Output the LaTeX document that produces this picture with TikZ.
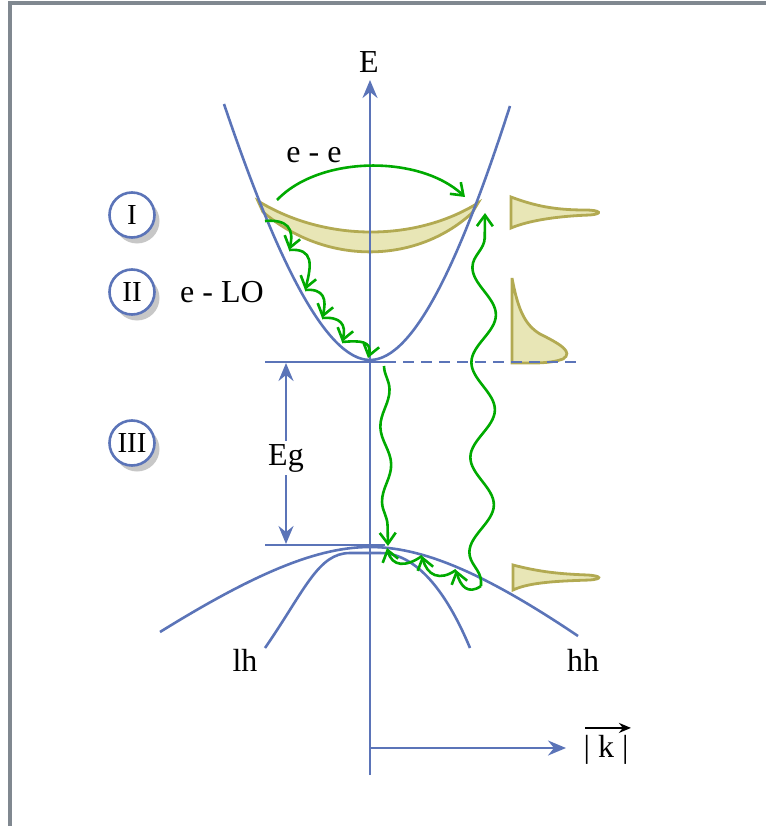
\documentclass[tikz,border=0pt]{standalone}
\usepackage{fontspec}
\setmainfont{Liberation Serif}
\usetikzlibrary{arrows.meta, decorations.pathmorphing, shadows}

\definecolor{bandblue}{RGB}{91,116,184}
\definecolor{hotgreen}{RGB}{0,170,0}
\definecolor{popfill}{RGB}{232,230,182}
\definecolor{popedge}{RGB}{178,170,82}
\definecolor{framegray}{RGB}{128,136,144}

\begin{document}
\begin{tikzpicture}[
      x=1pt, y=1pt,
      font=\fontsize{32}{36}\selectfont,
      band/.style={draw=bandblue, line width=2.6pt},
      axis/.style={band, -{Stealth[length=18pt, width=15pt, inset=6pt]}},
      relax/.style={draw=hotgreen, line width=2.6pt,
      -{Straight Barb[length=11pt, width=16pt]}},
      wave/.style={relax, decorate},
      pop/.style={draw=popedge, fill=popfill, line width=2.8pt},
      stage/.style={circle, draw=bandblue, fill=white, line width=2.6pt,
      minimum size=45pt, inner sep=0pt, font=\fontsize{29}{31}\selectfont,
      drop shadow={shadow xshift=5pt, shadow yshift=-6pt, fill=black!22, opacity=1}}
    ]
    \useasboundingbox (0,0) rectangle (765,-826);
    % frame
    \draw[framegray, line width=3.5pt] (10,-826) -- (10,-3) -- (768,-3);

    % electron populations
    \path[pop] (258,-201) .. controls (325,-242) and (415,-242) .. (478,-203)
      -- (472,-213) .. controls (415,-265) and (325,-265) .. (263,-212) -- cycle;
    \path[pop] (511,-197) .. controls (535,-206) and (555,-210) .. (585,-210)
      .. controls (601,-210) and (603,-214) .. (590,-215)
      .. controls (560,-216) and (530,-220) .. (511,-228) -- cycle;
    \path[pop] (512,-278) .. controls (518,-310) and (525,-325) .. (540,-334)
      .. controls (560,-344) and (574,-352) .. (563,-359)
      .. controls (550,-364) and (530,-363) .. (512,-363) -- cycle;
    \path[pop] (513,-565) .. controls (540,-572) and (560,-574) .. (588,-575)
      .. controls (602,-576) and (602,-579) .. (590,-580)
      .. controls (560,-581) and (530,-582) .. (513,-590) -- cycle;

    % axes
    \node (elab) at (369,-62) {E};
    \node (klab) at (606,-750) {| k |};
    \coordinate (ebot) at (370,-775);
    \coordinate (etop) at (370,-80);
    \coordinate (korig) at (370,-748);
    \coordinate (kend) at (566,-748);
    \draw[axis] (ebot) -- (etop);
    \draw[axis] (korig) -- (kend);
    \draw[line width=2.2pt, -{Stealth[length=12pt, width=10pt]}]
      ([xshift=5pt, yshift=4pt]klab.north west) -- ([xshift=-1pt, yshift=4pt]klab.north east);

    % bands
    \draw[band] (224,-104) .. controls (275,-255) and (325,-360) .. (370,-360)
      .. controls (415,-360) and (462,-255) .. (510,-106);
    \draw[band] (160,-632) .. controls (260,-570) and (320,-547) .. (370,-547)
      .. controls (420,-547) and (480,-570) .. (578,-636);
    \draw[band] (265,-648) .. controls (305,-590) and (318,-553) .. (350,-553)
      -- (380,-553) .. controls (420,-553) and (450,-600) .. (470,-648);
    \node (lh) at (245,-660) {lh};
    \node (hh) at (583,-660) {hh};

    % gap
    \coordinate (cbl) at (265,-362);
    \coordinate (cbr) at (385,-362);
    \coordinate (cbend) at (580,-362);
    \coordinate (vbl) at (265,-545);
    \coordinate (vbr) at (385,-545);
    \draw[band] (cbl) -- (cbr);
    \draw[band, dash pattern=on 11pt off 7pt] (cbr) -- (cbend);
    \draw[band] (vbl) -- (vbr);
    \node[fill=white, inner sep=3pt] (eg) at (286,-458) {Eg};
    \coordinate (egtop) at (286,-363);
    \coordinate (egbot) at (286,-544);
    \draw[axis] (eg) -- (egtop);
    \draw[axis] (eg) -- (egbot);

    % stages
    \node[stage] (s1) at (132,-215) {I};
    \node[stage] (s2) at (132,-292) {II};
    \node[stage] (s3) at (132,-443) {III};
    \node (lo) at (222,-292) {e - LO};

    % e-e scattering
    \coordinate (eea) at (277,-200);
    \coordinate (eeb) at (465,-197);
    \draw[relax] (eea) .. controls (320,-155) and (420,-155) .. (eeb);
    \node (ee) at (314,-155) {e - e};

    % LO phonon cascade
    \coordinate (c0) at (265,-221);
    \coordinate (c1) at (289,-250);
    \coordinate (c2) at (305,-290);
    \coordinate (c3) at (322,-318);
    \coordinate (c4) at (342,-342);
    \coordinate (c5) at (368,-358);
    \foreach \a/\b in {c0/c1, c1/c2, c2/c3, c3/c4, c4/c5}
      \draw[relax] (\a) to[out=5, in=75, looseness=1.5] (\b);

    % recombination and absorption
    \coordinate (w1) at (384,-366);
    \coordinate (w2) at (388,-546);
    \coordinate (q0) at (481,-586);
    \coordinate (cbhit) at (485,-213);
    \draw[wave, decoration={snake, amplitude=5pt, segment length=75pt,
      post length=12pt}] (w1) -- (w2);
    \draw[wave, decoration={snake, amplitude=12pt, segment length=95pt,
      pre length=4pt, post length=14pt}] (q0) -- (cbhit);

    % hole cascade
    \coordinate (q1) at (456,-570);
    \coordinate (q2) at (422,-556);
    \coordinate (q3) at (387,-548);
    \foreach \a/\b in {q0/q1, q1/q2, q2/q3}
      \draw[relax] (\a) to[out=215, in=-75, looseness=1.4] (\b);
  \end{tikzpicture}
\end{document}
